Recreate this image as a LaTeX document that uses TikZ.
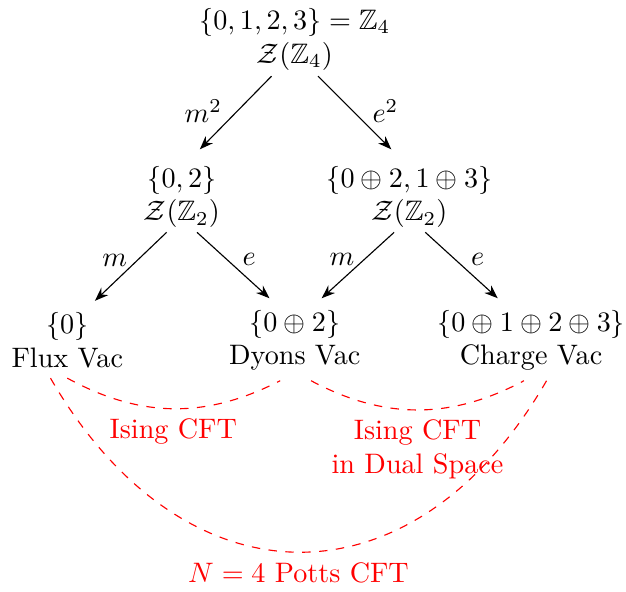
\documentclass[tikz,border=0pt]{standalone}
\usepackage{amsmath,amssymb}
\usepackage{tikz}
\usetikzlibrary{positioning,arrows.meta}
\tikzset{
  setnode/.style={align=center},
  cftarc/.style={draw=red,dashed,-},
  cftlabel/.style={text=red,align=center},
  every edge/.style={draw,->,>=Stealth,shorten >=1pt},
}
\begin{document}
\begin{tikzpicture}[->,>=Stealth,on grid]
\useasboundingbox (0,0) rectangle (7.815,-7.39);

\node[setnode] (z4) at (3.68,-0.49) {$\{0,1,2,3\}=\mathbb{Z}_4$\\$\mathcal{Z}(\mathbb{Z}_4)$};
\node[setnode,below left=1.97cm and 1.41cm of z4] (z2m) {$\{0,2\}$\\$\mathcal{Z}(\mathbb{Z}_2)$};
\node[setnode,below right=1.97cm and 1.43cm of z4] (z2e) {$\{0\oplus2,1\oplus3\}$\\$\mathcal{Z}(\mathbb{Z}_2)$};
\node[setnode,below left=1.79cm and 1.43cm of z2m] (flux) {$\{0\}$\\Flux Vac};
\node[setnode,below right=1.79cm and 1.41cm of z2m] (dyons) {$\{0\oplus2\}$\\Dyons Vac};
\node[setnode,below right=1.79cm and 1.52cm of z2e] (charge) {$\{0\oplus1\oplus2\oplus3\}$\\Charge Vac};

\path
([xshift=-.29cm,yshift=.05cm]z4.south) edge node[pos=.47,xshift=-.42cm] {$m^2$} ([xshift=.2cm,yshift=.06cm]z2m.north)
([xshift=.29cm,yshift=.05cm]z4.south) edge node[pos=.47,xshift=.4cm] {$e^2$} ([xshift=-.2cm,yshift=.06cm]z2e.north)
([xshift=-.19cm,yshift=.07cm]z2m.south) edge node[pos=.4,xshift=-.28cm] {$m$} ([xshift=.32cm]flux.north)
([xshift=.19cm,yshift=.07cm]z2m.south) edge node[pos=.4,xshift=.28cm] {$e$} ([xshift=-.29cm]dyons.north)
([xshift=-.19cm,yshift=.07cm]z2e.south) edge node[pos=.4,xshift=-.28cm] {$m$} ([xshift=.31cm]dyons.north)
([xshift=.2cm,yshift=.07cm]z2e.south) edge node[pos=.4,xshift=.28cm] {$e$} ([xshift=-.39cm]charge.north);

% the three CFTs between the vacua
\draw[cftarc] (flux.south) to[bend right=28] node[cftlabel,below] {Ising CFT} (dyons.250);
\draw[cftarc] (dyons.292) to[bend right=28] node[cftlabel,below] {Ising CFT\\in Dual Space} (charge.260);
\draw[cftarc] (flux.246) to[out=-60,in=-120,looseness=1.37] node[cftlabel,below] {$N=4$ Potts CFT} (charge.291);

\end{tikzpicture}
\end{document}
